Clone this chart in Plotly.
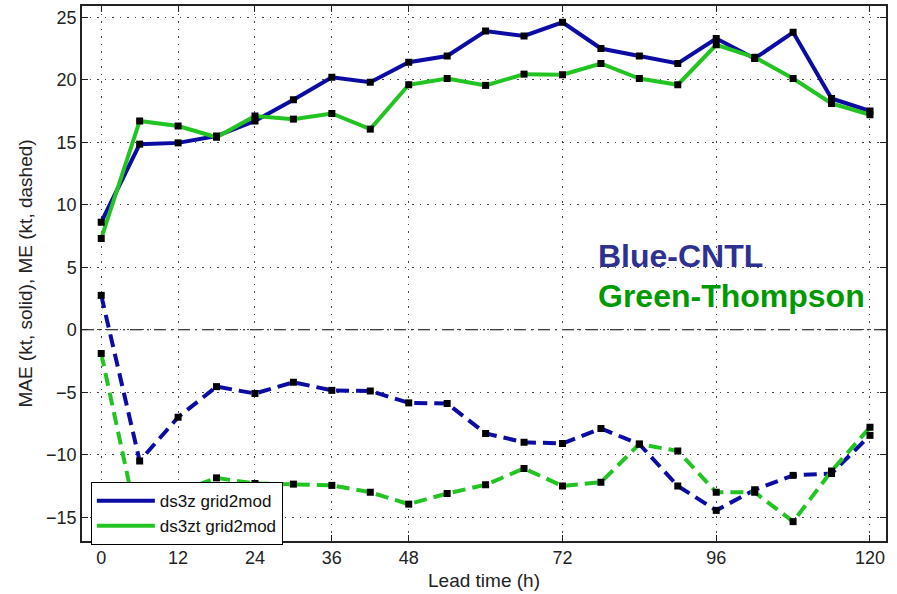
import plotly.graph_objects as go

# ---- data ----
lead_time = [0, 6, 12, 18, 24, 30, 36, 42, 48, 54, 60, 66, 72, 78, 84, 90, 96, 102, 108, 114, 120]
mae_cntl = [8.6, 14.85, 14.95, 15.5, 16.7, 18.4, 20.2, 19.8, 21.4, 21.9, 23.9, 23.5, 24.6, 22.5,
            21.9, 21.3, 23.3, 21.7, 23.8, 18.5, 17.5]
mae_thom = [7.3, 16.7, 16.3, 15.4, 17.1, 16.85, 17.3, 16.05, 19.6, 20.1, 19.55, 20.45, 20.4, 21.3,
            20.1, 19.6, 22.8, 21.8, 20.1, 18.1, 17.2]
me_cntl = [2.75, -10.5, -7.0, -4.55, -5.1, -4.2, -4.85, -4.9, -5.85, -5.9, -8.3, -9.0, -9.1, -7.9,
           -9.15, -12.5, -14.45, -12.8, -11.65, -11.5, -8.45]
me_thom = [-1.9, -16.2, -13.0, -11.85, -12.3, -12.35, -12.45, -13.0, -13.95, -13.1, -12.4, -11.1,
           -12.5, -12.2, -9.15, -9.7, -13.0, -13.0, -15.35, -11.3, -7.8]
series_names = ["ds3z grid2mod", "ds3zt grid2mod"]
x_ticks = [0, 12, 24, 36, 48, 72, 96, 120]
y_ticks = [-15, -10, -5, 0, 5, 10, 15, 20, 25]

BLUE = "#0C0CA4"
GREEN = "#22C422"
FONT = "Liberation Sans, Arial, sans-serif"
DASH = "13px,7px"

fig = go.Figure()

# dashed ME lines
for y, c in [(me_cntl, BLUE), (me_thom, GREEN)]:
    fig.add_trace(go.Scatter(x=lead_time, y=y, mode="lines", showlegend=False,
                             line=dict(color=c, width=4, dash=DASH), hoverinfo="skip"))
# solid MAE lines (legend entries)
for y, c, n in [(mae_cntl, BLUE, series_names[0]), (mae_thom, GREEN, series_names[1])]:
    fig.add_trace(go.Scatter(x=lead_time, y=y, mode="lines", name=n,
                             line=dict(color=c, width=4)))
# black square markers
for y in [mae_cntl, mae_thom, me_cntl, me_thom]:
    fig.add_trace(go.Scatter(x=lead_time, y=y, mode="markers", showlegend=False,
                             marker=dict(symbol="square", size=7, color="black"),
                             hoverinfo="skip"))

# zero reference line (dash-dot)
fig.add_shape(type="line", xref="paper", yref="y", x0=0, x1=1, y0=0, y1=0,
              line=dict(color="black", width=1.2, dash="12px,5px,2px,5px"), layer="below")

fig.add_annotation(x=77.3, y=5.9, xref="x", yref="y", text="<b>Blue-CNTL</b>", showarrow=False,
                   xanchor="left", yanchor="middle",
                   font=dict(family=FONT, size=32, color="#2E3192"))
fig.add_annotation(x=77.3, y=2.7, xref="x", yref="y", text="<b>Green-Thompson</b>", showarrow=False,
                   xanchor="left", yanchor="middle",
                   font=dict(family=FONT, size=32, color="#009A00"))

axis_common = dict(showline=True, linecolor="#222", linewidth=1.5, mirror="ticks",
                   ticks="inside", ticklen=6, tickcolor="#222", tickwidth=1.2,
                   showgrid=True, gridcolor="#444", gridwidth=1.2, griddash="1.5px,6px",
                   zeroline=False, automargin=False,
                   tickfont=dict(family=FONT, size=18, color="#222"))

fig.update_xaxes(range=[-3, 122.5], tickvals=x_ticks,
                 title=dict(text="Lead time (h)", font=dict(family=FONT, size=19, color="#222"),
                            standoff=6),
                 **axis_common)
fig.update_yaxes(range=[-16.9, 25.9], tickvals=y_ticks,
                 ticktext=[("\u2212" + str(-v)) if v < 0 else str(v) for v in y_ticks],
                 title=dict(text="MAE (kt, solid), ME (kt, dashed)",
                            font=dict(family=FONT, size=19, color="#222"), standoff=8),
                 **axis_common)

fig.update_layout(
    width=897, height=594,
    margin=dict(l=82, r=11, t=6, b=53),
    paper_bgcolor="white", plot_bgcolor="white",
    legend=dict(x=0.011, y=0.11, xanchor="left", yanchor="top",
                bgcolor="white", bordercolor="black", borderwidth=1,
                font=dict(family=FONT, size=17, color="#111"),
                itemwidth=58, tracegroupgap=0),
    showlegend=True,
)

fig.write_html("out.html", config={"displayModeBar": False},
               post_script="document.body.style.margin='0';document.body.style.padding='0';")
